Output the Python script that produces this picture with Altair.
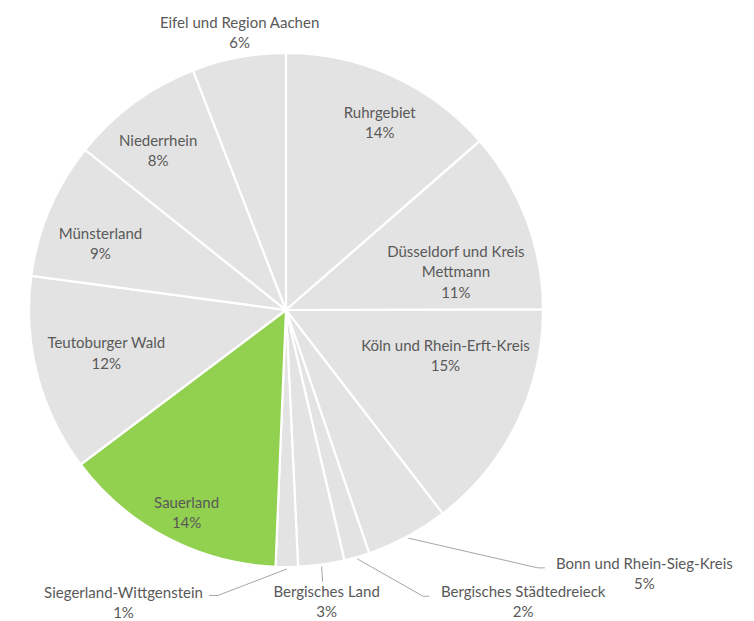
import altair as alt
import pandas as pd

# ---- data ----
regions = ["Ruhrgebiet", "Düsseldorf und Kreis Mettmann", "Köln und Rhein-Erft-Kreis",
           "Bonn und Rhein-Sieg-Kreis", "Bergisches Städtedreieck", "Bergisches Land",
           "Siegerland-Wittgenstein", "Sauerland", "Teutoburger Wald", "Münsterland",
           "Niederrhein", "Eifel und Region Aachen"]
shares = [13.6, 11.4, 14.6, 5.2, 1.6, 2.9, 1.4, 14.1, 12.4, 8.6, 8.4, 5.9]
highlight = "Sauerland"

# ---- label layout (polar placement relative to slice mid-angle) ----
label_text = {"Düsseldorf und Kreis Mettmann": "Düsseldorf und Kreis\nMettmann"}
label_radius = [209, 174, 166, 445, 376, 295, 335, 226, 185, 197, 204, 281]
label_nudge = [2.2, 8.1, -10.0, -25.4, -23.1, 0.0, 29.2, -1.6, 1.0, -3.5, -2.5, 1.1]
# leader elbow (dx, dy) and tail dx, relative to label centre
leaders = {
    "Bonn und Rhein-Sieg-Kreis": (-106.5, -6, -99.5),
    "Bergisches Städtedreieck": (-100, -5.5, -94),
    "Bergisches Land": (-4, -20.5, -4),
    "Siegerland-Wittgenstein": (94.5, -7.5, 85.5),
}

CX, CY, R = 278, 302, 257
LH = 20.5
GRAY, GREEN, TEXT, LINE = "#E3E3E3", "#92D050", "#595959", "#A6A6A6"

nan = float("nan")
df = pd.DataFrame({
    "idx": list(range(len(regions))),
    "region": regions,
    "share": shares,
    "label": [label_text.get(r, r) for r in regions],
    "lr": label_radius,
    "nudge": label_nudge,
    "ex": [leaders[r][0] if r in leaders else nan for r in regions],
    "ey": [leaders[r][1] if r in leaders else nan for r in regions],
    "tx": [leaders[r][2] if r in leaders else nan for r in regions],
})

colors = [GREEN if r == highlight else GRAY for r in regions]

base = alt.Chart(df)

pie = base.mark_arc(outerRadius=R, stroke="white", strokeWidth=2.2).encode(
    theta=alt.Theta("share:Q", stack=True),
    order=alt.Order("idx:Q", sort="ascending"),
    color=alt.Color("region:N", scale=alt.Scale(domain=regions, range=colors), legend=None),
    x=alt.value(CX),
    y=alt.value(CY),
)

geo = base.transform_joinaggregate(
    total="sum(share)"
).transform_window(
    cum="sum(share)", sort=[alt.SortField("idx", order="ascending")]
).transform_calculate(
    mid0="2*PI*(datum.cum - datum.share/2)/datum.total",
).transform_calculate(
    mid="datum.mid0 + datum.nudge*PI/180",
    sx=f"{CX} + 259*sin(datum.mid0)",
    sy=f"{CY} - 259*cos(datum.mid0)",
).transform_calculate(
    lx=f"{CX} + datum.lr*sin(datum.mid)",
    ly=f"{CY} - datum.lr*cos(datum.mid)",
    txt="datum.label + '\\n' + format(datum.share/datum.total, '.0%')",
).transform_calculate(
    nl="length(split(datum.txt, '\\n'))",
    elx="datum.lx + datum.ex",
    ely="datum.ly + datum.ey",
    tlx="datum.lx + datum.tx",
).transform_calculate(
    ty=f"datum.ly - (datum.nl - 1) / 2 * {LH}",
)

labels = geo.mark_text(
    font="Lato", fontSize=15, color=TEXT, lineBreak="\n", lineHeight=LH,
    align="center", baseline="middle"
).encode(
    x=alt.X("lx:Q", scale=None, axis=None),
    y=alt.Y("ty:Q", scale=None, axis=None),
    text="txt:N",
)

lead1 = geo.transform_filter("isValid(datum.ex) && isFinite(datum.ex)").mark_rule(
    color=LINE, strokeWidth=1
).encode(
    x=alt.X("sx:Q", scale=None, axis=None),
    y=alt.Y("sy:Q", scale=None, axis=None),
    x2="elx:Q",
    y2="ely:Q",
)

lead2 = geo.transform_filter("isValid(datum.ex) && isFinite(datum.ex)").mark_rule(
    color=LINE, strokeWidth=1
).encode(
    x=alt.X("elx:Q", scale=None, axis=None),
    y=alt.Y("ely:Q", scale=None, axis=None),
    x2="tlx:Q",
    y2="ely:Q",
)

chart = alt.layer(pie, lead1, lead2, labels).properties(
    width=738, height=613, padding=0,
    autosize=alt.AutoSizeParams(type="none"),
).configure_view(stroke=None)

chart.save("out.html", embed_options={"renderer": "svg", "actions": False})
